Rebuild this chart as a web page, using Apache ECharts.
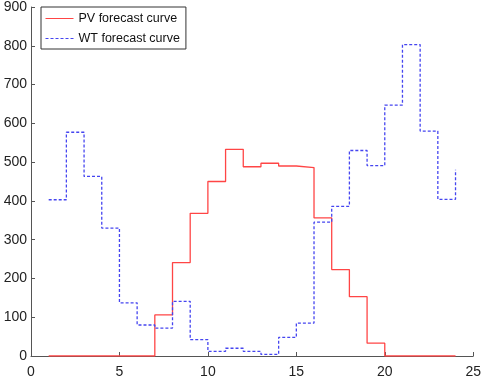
<!DOCTYPE html>
<html>
<head>
<meta charset="utf-8">
<script src="https://cdn.jsdelivr.net/npm/echarts@6/dist/echarts.min.js"></script>
<style>
  html, body { margin: 0; padding: 0; background: #fff; }
  #chart { width: 484px; height: 379px; }
</style>
</head>
<body>
<div id="chart"></div>
<script>
// 时段 1..24
const hours = [1, 2, 3, 4, 5, 6, 7, 8, 9, 10, 11, 12, 13, 14, 15, 16, 17, 18, 19, 20, 21, 22, 23, 24];
// 光伏预测
const pvValues = [0, 0, 0, 0, 0, 0, 106, 241, 368, 450, 533, 488, 497, 490, 486, 356, 223, 153, 33, 0, 0, 0, 0, 0];
// 风电预测
const wtValues = [403, 577, 463, 330, 137, 80, 72, 141, 42, 12, 20, 12, 4, 48, 85, 345, 386, 530, 491, 647, 803, 580, 404, 480];
const xTicks = [0, 5, 10, 15, 20, 25];
const yTicks = [0, 100, 200, 300, 400, 500, 600, 700, 800, 900];

const pairs = (vals) => hours.map((h, i) => [h, vals[i]]);

const axisColor = '#555';
const labelColor = '#222';
const font = 'Liberation Sans, Arial, sans-serif';

const chart = echarts.init(document.getElementById('chart'), null, { renderer: 'canvas' });
chart.setOption({
    animation: false,
    grid: {
        left: 31,
        right: 9,
        top: 7,
        bottom: 22
    },
    legend: {
        orient: 'vertical',
        left: 41,
        top: 7,
        padding: [5, 6, 4, 4],
        itemGap: 7,
        itemWidth: 28,
        itemHeight: 10,
        borderColor: '#333',
        borderWidth: 1,
        backgroundColor: '#fff',
        itemStyle: { opacity: 0 },
        lineStyle: { width: 1 },
        textStyle: {
            fontFamily: font,
            fontSize: 12.5,
            color: '#111'
        },
        data: ['PV forecast curve', 'WT forecast curve']
    },
    xAxis: {
        type: 'value',
        min: xTicks[0],
        max: xTicks[xTicks.length - 1],
        interval: 5,
        axisLine: { lineStyle: { color: axisColor } },
        axisTick: { inside: true, length: 4, lineStyle: { color: axisColor } },
        axisLabel: { color: labelColor, fontFamily: font, fontSize: 14, margin: 9 },
        splitLine: { show: false }
    },
    yAxis: {
        type: 'value',
        min: yTicks[0],
        max: yTicks[yTicks.length - 1],
        interval: 100,
        axisLine: { show: true, lineStyle: { color: axisColor } },
        axisTick: { show: true, inside: true, length: 4, lineStyle: { color: axisColor } },
        axisLabel: { color: labelColor, fontFamily: font, fontSize: 14, margin: 4 },
        splitLine: { show: false }
    },
    series: [{
        name: 'PV forecast curve',
        type: 'line',
        step: 'end',
        data: pairs(pvValues),
        symbol: 'none',
        itemStyle: { color: '#ff4545' },
        lineStyle: { color: '#ff4545', width: 1.3 }
    }, {
        name: 'WT forecast curve',
        type: 'line',
        step: 'end',
        data: pairs(wtValues),
        symbol: 'none',
        itemStyle: { color: '#4545f0' },
        lineStyle: { color: '#4545f0', width: 1.3, type: [3, 2] }
    }]
});
</script>
</body>
</html>
